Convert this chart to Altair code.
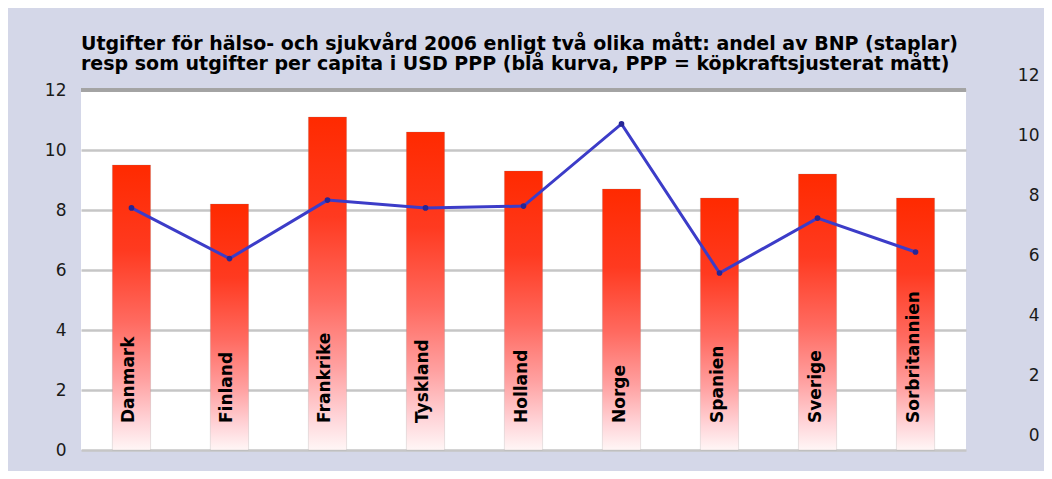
import altair as alt
import pandas as pd

# ---- data ----
countries = ["Danmark", "Finland", "Frankrike", "Tyskland", "Holland",
             "Norge", "Spanien", "Sverige", "Sorbritannien"]
bnp_share = [9.5, 8.2, 11.1, 10.6, 9.3, 8.7, 8.4, 9.2, 8.4]
per_capita_ppp = [7.57, 5.88, 7.83, 7.57, 7.63, 10.37, 5.4, 7.23, 6.1]
left_ticks = [0, 2, 4, 6, 8, 10, 12]
right_ticks = [0, 2, 4, 6, 8, 10, 12]
title_lines = [
    "Utgifter för hälso- och sjukvård 2006 enligt två olika mått: andel av BNP (staplar)",
    "resp som utgifter per capita i USD PPP (blå kurva, PPP = köpkraftsjusterat mått)",
]

df = pd.DataFrame({"land": countries, "bnp": bnp_share, "ppp": per_capita_ppp})

FONT = "DejaVu Sans"

x_enc = alt.X("land:N", sort=countries,
              scale=alt.Scale(paddingInner=0.61, paddingOuter=0.32), axis=None)

y_left = alt.Y("bnp:Q", scale=alt.Scale(domain=[0, 12]),
               axis=alt.Axis(values=left_ticks, title=None, domain=False, ticks=False,
                             labelFont=FONT, labelFontSize=17, labelColor="#1a1a1a",
                             labelPadding=15, grid=True, gridColor="#c6c6c6", gridWidth=2.5))

bar_fill = alt.Gradient(
    gradient="linear",
    stops=[alt.GradientStop(color="#ff2a00", offset=0),
           alt.GradientStop(color="#ff3a20", offset=0.3),
           alt.GradientStop(color="#ff6a60", offset=0.55),
           alt.GradientStop(color="#ffa0a0", offset=0.75),
           alt.GradientStop(color="#ffd4d8", offset=0.9),
           alt.GradientStop(color="#fff6f6", offset=1)],
    x1=0, x2=0, y1=0, y2=1)

bars = alt.Chart(df).mark_bar(color=bar_fill, stroke="#888888", strokeOpacity=0.2,
                              strokeWidth=1).encode(x=x_enc, y=y_left)

top_rule = alt.Chart(df).mark_rule(color="#a3a3a3", strokeWidth=3).encode(y=alt.datum(12))

labels = alt.Chart(df).mark_text(angle=270, align="left", baseline="middle", font=FONT,
                                 fontSize=17, fontWeight="bold", color="black",
                                 dx=27, dy=-2).encode(x=x_enc, y=alt.datum(0), text="land:N")

left = alt.layer(bars, top_rule, labels)

y_right = alt.Y("ppp:Q", scale=alt.Scale(domain=[0, 12], range=[345, -15]),
                axis=alt.Axis(orient="right", values=right_ticks, title=None, domain=False,
                              ticks=False, grid=False, labelFont=FONT, labelFontSize=17,
                              labelColor="#1a1a1a", labelAlign="right", labelPadding=73))

line = alt.Chart(df).mark_line(color="#3c3cc8", strokeWidth=3).encode(x=x_enc, y=y_right)
pts = alt.Chart(df).mark_circle(color="#262696", size=32, opacity=1).encode(x=x_enc, y=y_right)

right = alt.layer(line, pts)

chart = alt.layer(left, right).resolve_scale(y="independent").properties(
    width=885, height=360,
    title=alt.TitleParams(text=title_lines, anchor="start", frame="group", font=FONT,
                          fontSize=19, fontWeight="bold", color="black", lineHeight=20,
                          offset=8, dy=16),
    autosize=alt.AutoSizeParams(type="none"),
    padding={"left": 73, "top": 82, "right": 78, "bottom": 21},
    background="#d4d7e8",
).configure_view(fill="white", stroke=None)

chart.save("out.html", embed_options={"renderer": "svg", "actions": False})
